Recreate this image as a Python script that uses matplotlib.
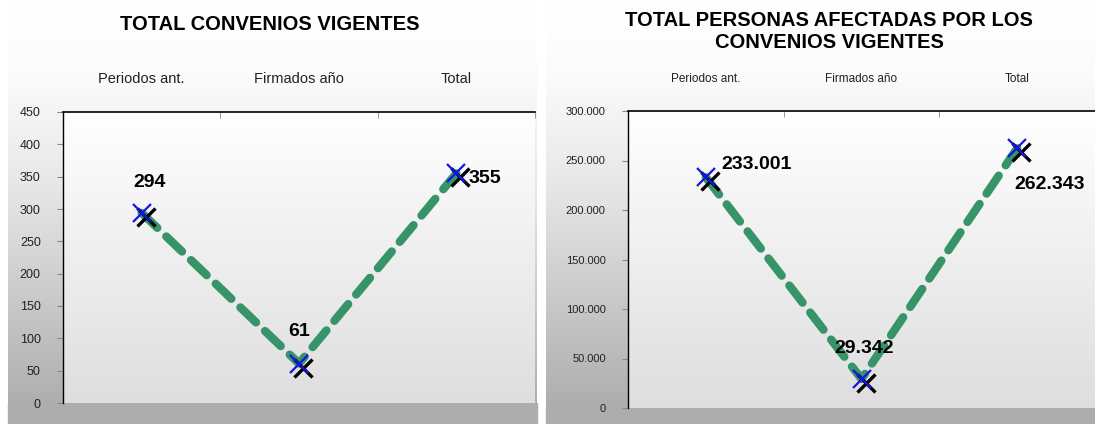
import matplotlib.pyplot as plt
import numpy as np
from matplotlib.colors import LinearSegmentedColormap
from matplotlib.transforms import offset_copy

plt.rcParams['font.family'] = ['Liberation Sans', 'DejaVu Sans']

# data
categorias = ['Periodos ant.', 'Firmados año', 'Total']
convenios = [294, 61, 355]
personas = [233001, 29342, 262343]
titulo1 = 'TOTAL CONVENIOS VIGENTES'
titulo2 = 'TOTAL PERSONAS AFECTADAS POR LOS\nCONVENIOS VIGENTES'

verde = '#379469'
azul = '#1414e6'

fig = plt.figure(figsize=(10.95, 4.24), dpi=100)

panel_cmap = LinearSegmentedColormap.from_list('p', [(0, '#a9a9a9'), (0.55, '#e6e6e6'), (0.82, '#fbfbfb'), (1, '#ffffff')])
plot_cmap = LinearSegmentedColormap.from_list('a', ['#dedede', '#ffffff'])
grad = np.linspace(0, 1, 256).reshape(-1, 1)

def fondo(rect):
    bg = fig.add_axes(rect, zorder=0)
    bg.imshow(grad, cmap=panel_cmap, aspect='auto', origin='lower', extent=[0, 1, 0, 1])
    bg.axis('off')

fondo([8/1095, 0, 529/1095, 1])
fondo([546/1095, 0, 549/1095, 1])

def panel(rect, vals, ymax, ystep, fmt, tsize, lsize, labels, title, tx, ty):
    ax = fig.add_axes(rect, zorder=1)
    ax.imshow(grad, cmap=plot_cmap, aspect='auto', origin='lower',
              extent=[0, 1, 0, 1], transform=ax.transAxes, zorder=0)
    x = np.arange(len(vals))
    ax.plot(x, vals, color=verde, lw=6, ls=(0, (2.6, 1.5)),
            dash_capstyle='round', zorder=2)
    shadow = offset_copy(ax.transData, fig=fig, x=4, y=-4, units='dots')
    ax.plot(x, vals, ls='none', marker='x', ms=13, mew=2.4, color='black',
            transform=shadow, zorder=3)
    ax.plot(x, vals, ls='none', marker='x', ms=13, mew=1.6, color=azul, zorder=4)
    for xi, v, (dx, dy, ha) in zip(x, vals, labels):
        ax.annotate(fmt(v), (xi, v), xytext=(dx, dy), textcoords='offset points',
                    ha=ha, va='center', fontsize=14, fontweight='bold', zorder=5)
    ax.set_xlim(-0.5, len(vals) - 0.5)
    ax.set_ylim(0, ymax)
    ax.set_yticks(np.arange(0, ymax + 1, ystep))
    ax.set_yticklabels([fmt(t) for t in np.arange(0, ymax + 1, ystep)], fontsize=lsize, color='#222222')
    ax.xaxis.tick_top()
    ax.set_xticks(x)
    ax.set_xticklabels(categorias, fontsize=tsize, color='#222222')
    ax.set_xticks(np.arange(-0.5, len(vals)), minor=True)
    ax.tick_params(axis='x', which='major', length=0, pad=19)
    ax.tick_params(axis='x', which='minor', length=4, direction='in', color='#888888')
    ax.tick_params(axis='y', length=4, direction='out', color='#888888', pad=12)
    for s in ['right', 'bottom']:
        ax.spines[s].set_visible(False)
    ax.spines['top'].set_linewidth(1.2)
    ax.spines['left'].set_linewidth(1.0)
    fig.text(tx, ty, title, ha='center', va='top',
             fontsize=14.5, fontweight='bold', linespacing=1.25)
    return ax

# band below plot areas
fig.patches.append(plt.Rectangle((8/1095, 0), 529/1095, 21/424, transform=fig.transFigure,
                                 color='#adadad', zorder=0.5))
fig.patches.append(plt.Rectangle((546/1095, 0), 549/1095, 16/424, transform=fig.transFigure,
                                 color='#adadad', zorder=0.5))

fmt1 = lambda v: f'{int(v)}'
fmt2 = lambda v: f'{int(v):,}'.replace(',', '.')

panel([63/1095, 21/424, 472/1095, 291/424], convenios, 450, 50, fmt1, 10.5, 9,
      [(6, 22, 'center'), (0, 23, 'center'), (9, -4, 'left')], titulo1, 270/1095, 0.965)
panel([628/1095, 16/424, 467/1095, 297/424], personas, 300000, 50000, fmt2, 8.5, 8,
      [(11, 9, 'left'), (2, 22, 'center'), (-2, -26, 'left')], titulo2, 829/1095, 0.975)

fig.savefig('out.png', dpi=100)
